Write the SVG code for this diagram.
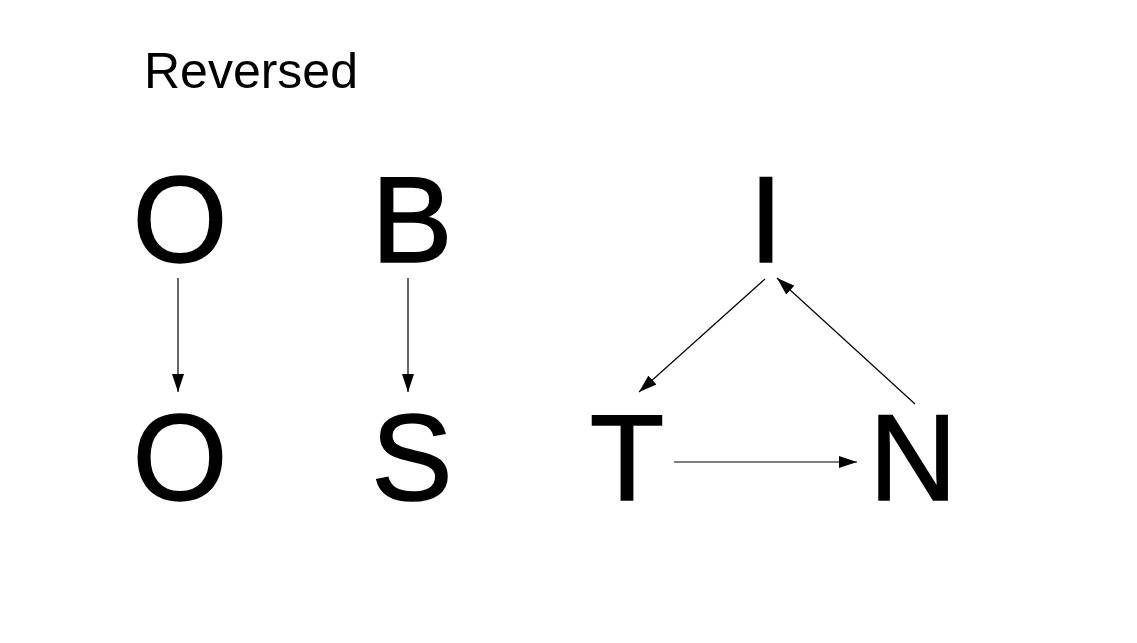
<svg xmlns="http://www.w3.org/2000/svg" width="1137" height="643" viewBox="0 0 1137 643">
<style>
.t{font-family:"Liberation Sans",Arial,sans-serif;fill:#000}
.big{font-size:122px;text-anchor:middle;stroke:#000;stroke-width:1.5}
.e{stroke:#000;stroke-width:1.2;fill:none;marker-end:url(#ah)}
</style>
<defs>
<marker id="ah" viewBox="0 0 18 12" refX="18" refY="6" markerWidth="18" markerHeight="12" markerUnits="userSpaceOnUse" orient="auto">
<path d="M0,0L18,6L0,12z" fill="#000"/>
</marker>
</defs>
<rect width="1137" height="643" fill="#fff"/>
<text class="t" x="144" y="88" font-size="50">Reversed</text>
<g id="O1"><text class="t big" x="180" y="262">O</text></g>
<g id="O2"><text class="t big" x="180" y="500">O</text></g>
<g id="B"><text class="t big" x="412" y="262">B</text></g>
<g id="S"><text class="t big" x="412" y="500">S</text></g>
<g id="I"><text class="t big" x="766" y="262">I</text></g>
<g id="T"><text class="t big" x="627" y="500">T</text></g>
<g id="N"><text class="t big" x="913" y="500">N</text></g>
<g id="edges">
<line class="e" x1="178" y1="278" x2="178" y2="392"/>
<line class="e" x1="408" y1="278" x2="408" y2="392"/>
<line class="e" x1="765" y1="279" x2="639" y2="392"/>
<line class="e" x1="915" y1="404" x2="777" y2="278"/>
<line class="e" x1="674" y1="462" x2="857" y2="462"/>
</g>
</svg>
